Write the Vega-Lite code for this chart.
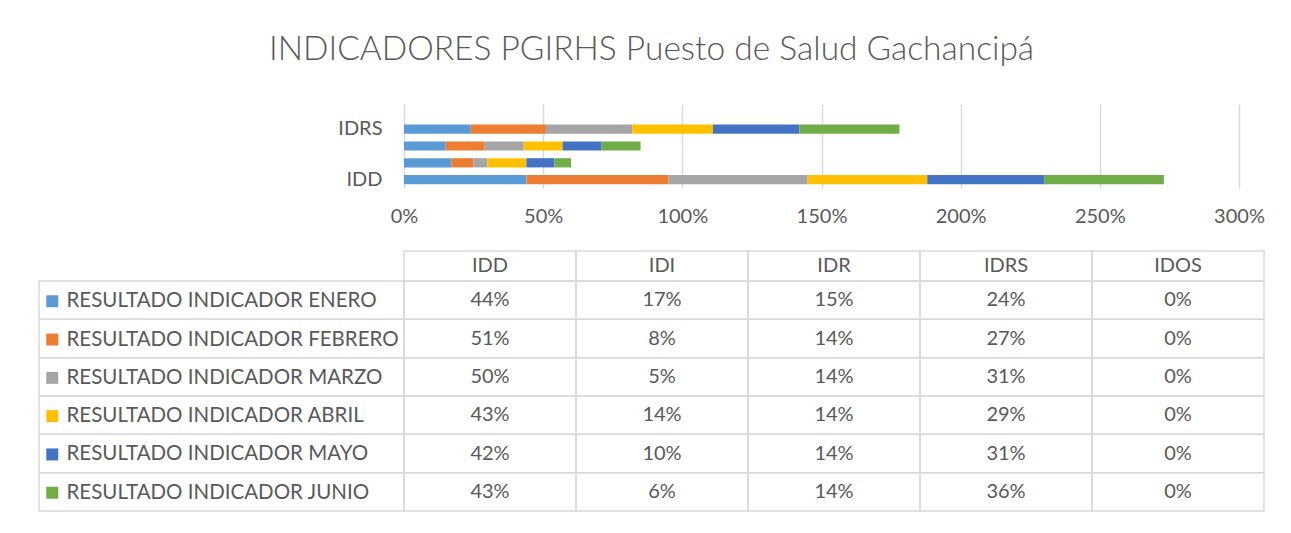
{
  "$schema": "https://vega.github.io/schema/vega-lite/v6.json",
  "padding": {"left": 38, "top": 33, "right": 5, "bottom": 5},
  "background": "white",
  "title": {"text": "INDICADORES PGIRHS Puesto de Salud Gachancipá", "fontSize": 33.5, "font": "Lato", "fontWeight": 300, "color": "#595959", "anchor": "middle", "offset": 34},
  "config": {
    "view": {"stroke": null},
    "font": "Lato",
    "legend": {"padding": 0}
  },
  "datasets": {
    "resultados": [
      {"serie": "RESULTADO INDICADOR ENERO", "mes": 1, "indicador": "IDD", "valor": 0.44},
      {"serie": "RESULTADO INDICADOR ENERO", "mes": 1, "indicador": "IDI", "valor": 0.17},
      {"serie": "RESULTADO INDICADOR ENERO", "mes": 1, "indicador": "IDR", "valor": 0.15},
      {"serie": "RESULTADO INDICADOR ENERO", "mes": 1, "indicador": "IDRS", "valor": 0.24},
      {"serie": "RESULTADO INDICADOR ENERO", "mes": 1, "indicador": "IDOS", "valor": 0},
      {"serie": "RESULTADO INDICADOR FEBRERO", "mes": 2, "indicador": "IDD", "valor": 0.51},
      {"serie": "RESULTADO INDICADOR FEBRERO", "mes": 2, "indicador": "IDI", "valor": 0.08},
      {"serie": "RESULTADO INDICADOR FEBRERO", "mes": 2, "indicador": "IDR", "valor": 0.14},
      {"serie": "RESULTADO INDICADOR FEBRERO", "mes": 2, "indicador": "IDRS", "valor": 0.27},
      {"serie": "RESULTADO INDICADOR FEBRERO", "mes": 2, "indicador": "IDOS", "valor": 0},
      {"serie": "RESULTADO INDICADOR MARZO", "mes": 3, "indicador": "IDD", "valor": 0.50},
      {"serie": "RESULTADO INDICADOR MARZO", "mes": 3, "indicador": "IDI", "valor": 0.05},
      {"serie": "RESULTADO INDICADOR MARZO", "mes": 3, "indicador": "IDR", "valor": 0.14},
      {"serie": "RESULTADO INDICADOR MARZO", "mes": 3, "indicador": "IDRS", "valor": 0.31},
      {"serie": "RESULTADO INDICADOR MARZO", "mes": 3, "indicador": "IDOS", "valor": 0},
      {"serie": "RESULTADO INDICADOR ABRIL", "mes": 4, "indicador": "IDD", "valor": 0.43},
      {"serie": "RESULTADO INDICADOR ABRIL", "mes": 4, "indicador": "IDI", "valor": 0.14},
      {"serie": "RESULTADO INDICADOR ABRIL", "mes": 4, "indicador": "IDR", "valor": 0.14},
      {"serie": "RESULTADO INDICADOR ABRIL", "mes": 4, "indicador": "IDRS", "valor": 0.29},
      {"serie": "RESULTADO INDICADOR ABRIL", "mes": 4, "indicador": "IDOS", "valor": 0},
      {"serie": "RESULTADO INDICADOR MAYO", "mes": 5, "indicador": "IDD", "valor": 0.42},
      {"serie": "RESULTADO INDICADOR MAYO", "mes": 5, "indicador": "IDI", "valor": 0.10},
      {"serie": "RESULTADO INDICADOR MAYO", "mes": 5, "indicador": "IDR", "valor": 0.14},
      {"serie": "RESULTADO INDICADOR MAYO", "mes": 5, "indicador": "IDRS", "valor": 0.31},
      {"serie": "RESULTADO INDICADOR MAYO", "mes": 5, "indicador": "IDOS", "valor": 0},
      {"serie": "RESULTADO INDICADOR JUNIO", "mes": 6, "indicador": "IDD", "valor": 0.43},
      {"serie": "RESULTADO INDICADOR JUNIO", "mes": 6, "indicador": "IDI", "valor": 0.06},
      {"serie": "RESULTADO INDICADOR JUNIO", "mes": 6, "indicador": "IDR", "valor": 0.14},
      {"serie": "RESULTADO INDICADOR JUNIO", "mes": 6, "indicador": "IDRS", "valor": 0.36},
      {"serie": "RESULTADO INDICADOR JUNIO", "mes": 6, "indicador": "IDOS", "valor": 0}
    ]
  },
  "spacing": 24,
  "vconcat": [
    {
      "spacing": 0,
      "bounds": "flush",
      "hconcat": [
        {"width": 365, "height": 84, "data": {"values": []}, "mark": "rect", "encoding": {}},
        {
          "width": 835,
          "height": 84,
          "data": {"name": "resultados"},
          "mark": {"type": "bar"},
          "encoding": {
            "y": {"field": "indicador", "type": "nominal",
              "scale": {"domain": ["IDOS", "IDRS", "IDR", "IDI", "IDD"], "paddingInner": 0.45, "paddingOuter": 0.225},
              "axis": {"title": null, "ticks": false, "domain": false, "labelExpr": "datum.value == 'IDD' || datum.value == 'IDRS' ? datum.label : ''", "labelFontSize": 20, "labelColor": "#595959", "labelPadding": 22}},
            "x": {"field": "valor", "type": "quantitative", "stack": "zero",
              "scale": {"domain": [0, 3], "nice": false},
              "axis": {"title": null, "values": [0, 0.5, 1, 1.5, 2, 2.5, 3], "format": ".0%", "grid": true, "gridColor": "#d9d9d9", "gridWidth": 1.5, "ticks": false, "domain": false, "labelFontSize": 20, "labelColor": "#595959", "labelPadding": 18, "labelFlush": false, "labelOverlap": false}},
            "color": {"field": "serie", "type": "nominal",
              "scale": {"domain": ["RESULTADO INDICADOR ENERO", "RESULTADO INDICADOR FEBRERO", "RESULTADO INDICADOR MARZO", "RESULTADO INDICADOR ABRIL", "RESULTADO INDICADOR MAYO", "RESULTADO INDICADOR JUNIO"],
                "range": ["#5B9BD5", "#ED7D31", "#A5A5A5", "#FFC000", "#4472C4", "#70AD47"]},
              "legend": {"orient": "none", "legendX": 3, "legendY": 187, "title": null, "symbolType": "square", "symbolSize": 144, "symbolStrokeWidth": 0, "labelFontSize": 20.5, "labelColor": "#595959", "labelOffset": 4, "rowPadding": 17.3, "labelLimit": 400}},
            "order": {"field": "mes", "type": "quantitative"}
          }
        }
      ]
    },
    {
      "columns": 2,
      "spacing": 0,
      "bounds": "flush",
      "concat": [
        {"width": 365, "height": 30, "data": {"values": []}, "mark": "rect", "encoding": {}},
        {
          "width": 860,
          "height": 30,
          "data": {"name": "resultados"},
          "transform": [{"aggregate": [{"op": "count", "as": "k"}], "groupby": ["indicador"]}],
          "encoding": {
            "x": {"field": "indicador", "type": "nominal", "scale": {"domain": ["IDD", "IDI", "IDR", "IDRS", "IDOS"], "paddingInner": 0, "paddingOuter": 0}, "axis": null}
          },
          "layer": [
            {"mark": {"type": "rect", "filled": false, "stroke": "#d9d9d9", "strokeWidth": 1.5}},
            {"mark": {"type": "text", "fontSize": 20, "color": "#595959"}, "encoding": {"text": {"field": "indicador"}}}
          ]
        },
        {
          "width": 365,
          "height": 230,
          "data": {"name": "resultados"},
          "transform": [{"aggregate": [{"op": "count", "as": "k"}], "groupby": ["serie"]}],
          "mark": {"type": "rect", "filled": false, "stroke": "#d9d9d9", "strokeWidth": 1.5},
          "encoding": {
            "y": {"field": "serie", "type": "nominal", "scale": {"domain": ["RESULTADO INDICADOR ENERO", "RESULTADO INDICADOR FEBRERO", "RESULTADO INDICADOR MARZO", "RESULTADO INDICADOR ABRIL", "RESULTADO INDICADOR MAYO", "RESULTADO INDICADOR JUNIO"], "paddingInner": 0, "paddingOuter": 0}, "axis": null}
          }
        },
        {
          "width": 860,
          "height": 230,
          "data": {"name": "resultados"},
          "encoding": {
            "x": {"field": "indicador", "type": "nominal", "scale": {"domain": ["IDD", "IDI", "IDR", "IDRS", "IDOS"], "paddingInner": 0, "paddingOuter": 0}, "axis": null},
            "y": {"field": "serie", "type": "nominal", "scale": {"domain": ["RESULTADO INDICADOR ENERO", "RESULTADO INDICADOR FEBRERO", "RESULTADO INDICADOR MARZO", "RESULTADO INDICADOR ABRIL", "RESULTADO INDICADOR MAYO", "RESULTADO INDICADOR JUNIO"], "paddingInner": 0, "paddingOuter": 0}, "axis": null}
          },
          "layer": [
            {"mark": {"type": "rect", "filled": false, "stroke": "#d9d9d9", "strokeWidth": 1.5}},
            {"mark": {"type": "text", "fontSize": 20, "color": "#595959"}, "encoding": {"text": {"field": "valor", "type": "quantitative", "format": ".0%"}}}
          ]
        }
      ]
    }
  ]
}
